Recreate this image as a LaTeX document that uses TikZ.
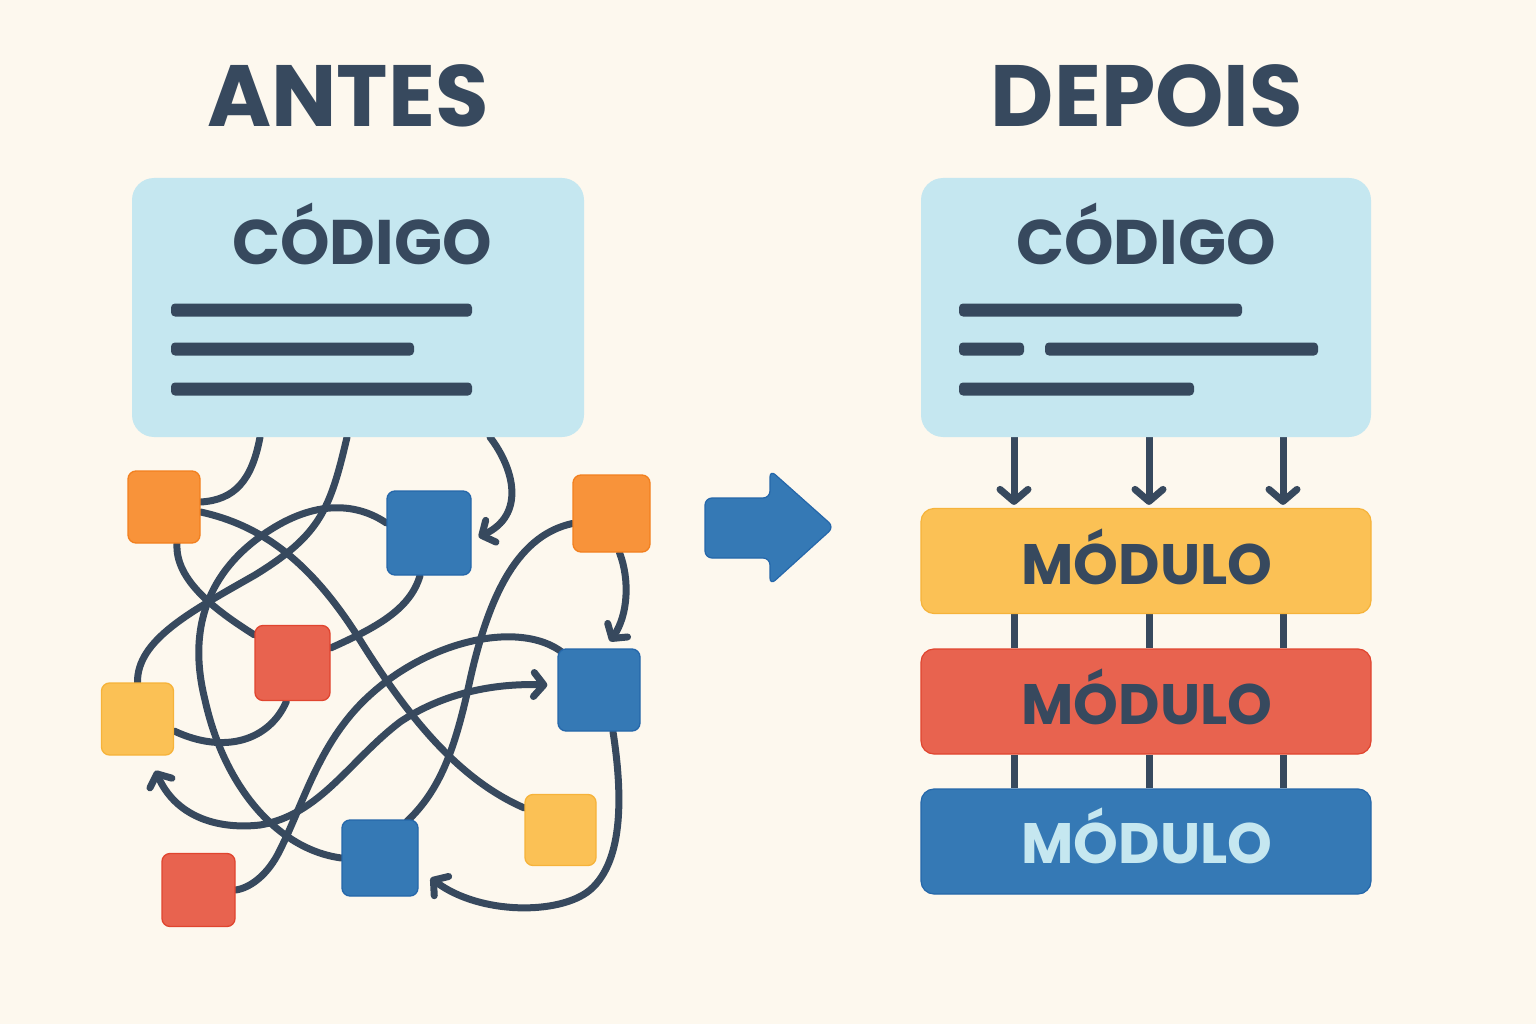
\documentclass[tikz,border=0pt]{standalone}
\usepackage{fontspec}
\setmainfont{Poppins}
\usetikzlibrary{arrows.meta,calc}
\definecolor{bgc}{HTML}{FDF8EE}
\definecolor{ink}{HTML}{37495E}
\definecolor{codeblue}{HTML}{C5E7F0}
\definecolor{sqorange}{HTML}{F8933A}
\definecolor{sqorangeB}{HTML}{F2801F}
\definecolor{sqblue}{HTML}{3579B5}
\definecolor{sqblueB}{HTML}{2567AA}
\definecolor{sqred}{HTML}{E8634F}
\definecolor{sqredB}{HTML}{E0452F}
\definecolor{sqyellow}{HTML}{FBC155}
\definecolor{sqyellowB}{HTML}{F6B33A}
\pgfdeclarelayer{back}
\pgfdeclarelayer{wires}
\pgfsetlayers{back,wires,main}
\tikzset{
  sq/.style={rectangle, rounded corners=8pt, inner sep=0pt, line width=1.3pt},
  sqO/.style={sq, fill=sqorange, draw=sqorangeB},
  sqB/.style={sq, fill=sqblue, draw=sqblueB},
  sqR/.style={sq, fill=sqred, draw=sqredB},
  sqY/.style={sq, fill=sqyellow, draw=sqyellowB},
  codebox/.style={rectangle, rounded corners=22pt, fill=codeblue, inner sep=0pt, minimum width=452pt, minimum height=259pt},
  modbox/.style={rectangle, rounded corners=13pt, inner sep=0pt, minimum width=450pt, minimum height=105pt, line width=1.2pt},
  bar/.style={fill=ink, rounded corners=4pt},
  wire/.style={draw=ink, line width=7pt, line cap=round},
  barb/.tip={Straight Barb[length=10pt,width=24pt,round]},
  tip/.style={-barb},
  ttl/.style={font=\bfseries\fontsize{87}{90}\selectfont, text=ink, anchor=base},
  codelbl/.style={font=\bfseries\fontsize{63}{66}\selectfont, text=ink, anchor=base},
  modlbl/.style={font=\bfseries\fontsize{57}{60}\selectfont, anchor=base},
}
\begin{document}
\begin{tikzpicture}[x=1pt,y=-1pt]
\begin{pgfonlayer}{back}
\fill[bgc] (0,0) rectangle (1536,1024);
\end{pgfonlayer}
\useasboundingbox (0,0) rectangle (1536,1024);

% titles
\node[ttl] (tA) at (348,127) {ANTES};
\node[ttl] (tD) at (1147,127) {DEPOIS};

% code boxes
\node[codebox] (codeL) at (358,307.5) {};
\node[codebox, minimum width=450pt] (codeR) at (1146,307.5) {};
\node[codelbl] (cL) at (362,265) {CÓDIGO};
\node[codelbl] (cR) at (1146,265) {CÓDIGO};
\fill[bar] (171,303.5) rectangle (472,316.5);
\fill[bar] (171,342.5) rectangle (414,355.5);
\fill[bar] (171,382.5) rectangle (472,395.5);
\fill[bar] (959,303.5) rectangle (1242,316.5);
\fill[bar] (959,342.5) rectangle (1024,355.5);
\fill[bar] (1045,342.5) rectangle (1318,355.5);
\fill[bar] (959,382.5) rectangle (1194,395.5);

% squares
\node[sqO, minimum size=72pt] (O1) at (164,507) {};
\node[sqB, minimum size=84pt] (B1) at (429,533) {};
\node[sqO, minimum size=77pt] (O2) at (611.5,513.5) {};
\node[sqR, minimum size=75pt] (R1) at (292.5,663) {};
\node[sqB, minimum size=82pt] (B2) at (599,690) {};
\node[sqY, minimum size=72pt] (Y1) at (137.5,719) {};
\node[sqY, minimum size=71pt] (Y2) at (560.5,830) {};
\node[sqB, minimum size=76pt] (B3) at (380,858) {};
\node[sqR, minimum size=73pt] (R2) at (198.5,890) {};

% tangled wires
\begin{pgfonlayer}{wires}
\draw[wire] (260,0 |- codeL.south) .. controls (252,480) and (235,500) .. ($(O1.east)+(0,-5)$);
\draw[wire] (347,0 |- codeL.south) .. controls (330,510) and (320,535) .. (255,575) .. controls (190,612) and (137,640) .. (Y1.north);
\draw[wire] ($(B1.west)+(0,-10)$) .. controls (360,505) and (320,498) .. (270,530) .. controls (215,565) and (185,620) .. (205,700) .. controls (225,790) and (280,850) .. (B3.west);
\draw[wire] ($(O1.east)+(0,5)$) .. controls (260,525) and (310,560) .. (360,640) .. controls (410,720) and (460,780) .. ($(Y2.west)+(0,-22)$);
\draw[wire] ($(O1.south)+(13,0)$) .. controls (175,580) and (215,610) .. ($(R1.north west)+(0,10)$);
\draw[wire] ($(B1.south)+(-9,0)$) .. controls (410,610) and (375,628) .. ($(R1.east)+(0,-15)$);
\draw[wire] ($(R1.south)+(-6,0)$) .. controls (270,740) and (225,755) .. ($(Y1.east)+(0,12)$);
\draw[wire, tip] (490,0 |- codeL.south) .. controls (515,470) and (525,515) .. ($(B1.east)+(7,4)$);
\draw[wire] ($(O2.west)+(0,10)$) .. controls (520,535) and (490,590) .. (470,680) .. controls (455,750) and (440,790) .. ($(B3.north)+(27,2)$);
\draw[wire, tip] ($(O2.south)+(8,0)$) .. controls (630,580) and (628,615) .. ($(B2.north)+(11,-7)$);
\draw[wire] ($(B2.north west)+(5,4)$) .. controls (520,620) and (430,640) .. (370,695) .. controls (320,740) and (305,800) .. (280,850) .. controls (268,875) and (250,888) .. (R2.east);
\draw[wire, barb-barb] ($(Y1.south)+(18,15)$) .. controls (175,815) and (215,830) .. (260,825) .. controls (320,815) and (350,760) .. (400,722) .. controls (440,695) and (490,683) .. ($(B2.west)+(-10,-5)$);
\draw[wire, tip] ($(B2.south)+(14,0)$) .. controls (622,790) and (625,860) .. (590,890) .. controls (560,915) and (480,915) .. ($(B3.east)+(12,20)$);
\end{pgfonlayer}

% big arrow
\filldraw[fill=sqblue, draw=sqblueB, line width=1.2pt, rounded corners=7pt]
  (705,498) -- (770,498) -- (770,470) -- (834,527) -- (770,585) -- (770,558) -- (705,558) -- cycle;

% modules
\node[modbox, fill=sqyellow, draw=sqyellowB] (mY) at (1146,561) {};
\node[modbox, fill=sqred, draw=sqredB] (mR) at (1146,701.5) {};
\node[modbox, fill=sqblue, draw=sqblueB] (mB) at (1146,841.5) {};
\node[modlbl, text=ink] (lY) at (1147,584) {MÓDULO};
\node[modlbl, text=ink] (lR) at (1147,724) {MÓDULO};
\node[modlbl, text=codeblue] (lB) at (1147,863) {MÓDULO};

\begin{pgfonlayer}{wires}
\foreach \xx in {1014,1149,1283}{
  \draw[wire, -{Straight Barb[length=12pt,width=28pt,round]}, shorten >=3pt] (\xx,0 |- codeR.south) -- (\xx,0 |- mY.north);
  \draw[wire, line cap=butt] (\xx,0 |- mY.south) -- (\xx,0 |- mR.north);
  \draw[wire, line cap=butt] (\xx,0 |- mR.south) -- (\xx,0 |- mB.north);
}
\end{pgfonlayer}
\end{tikzpicture}
\end{document}
